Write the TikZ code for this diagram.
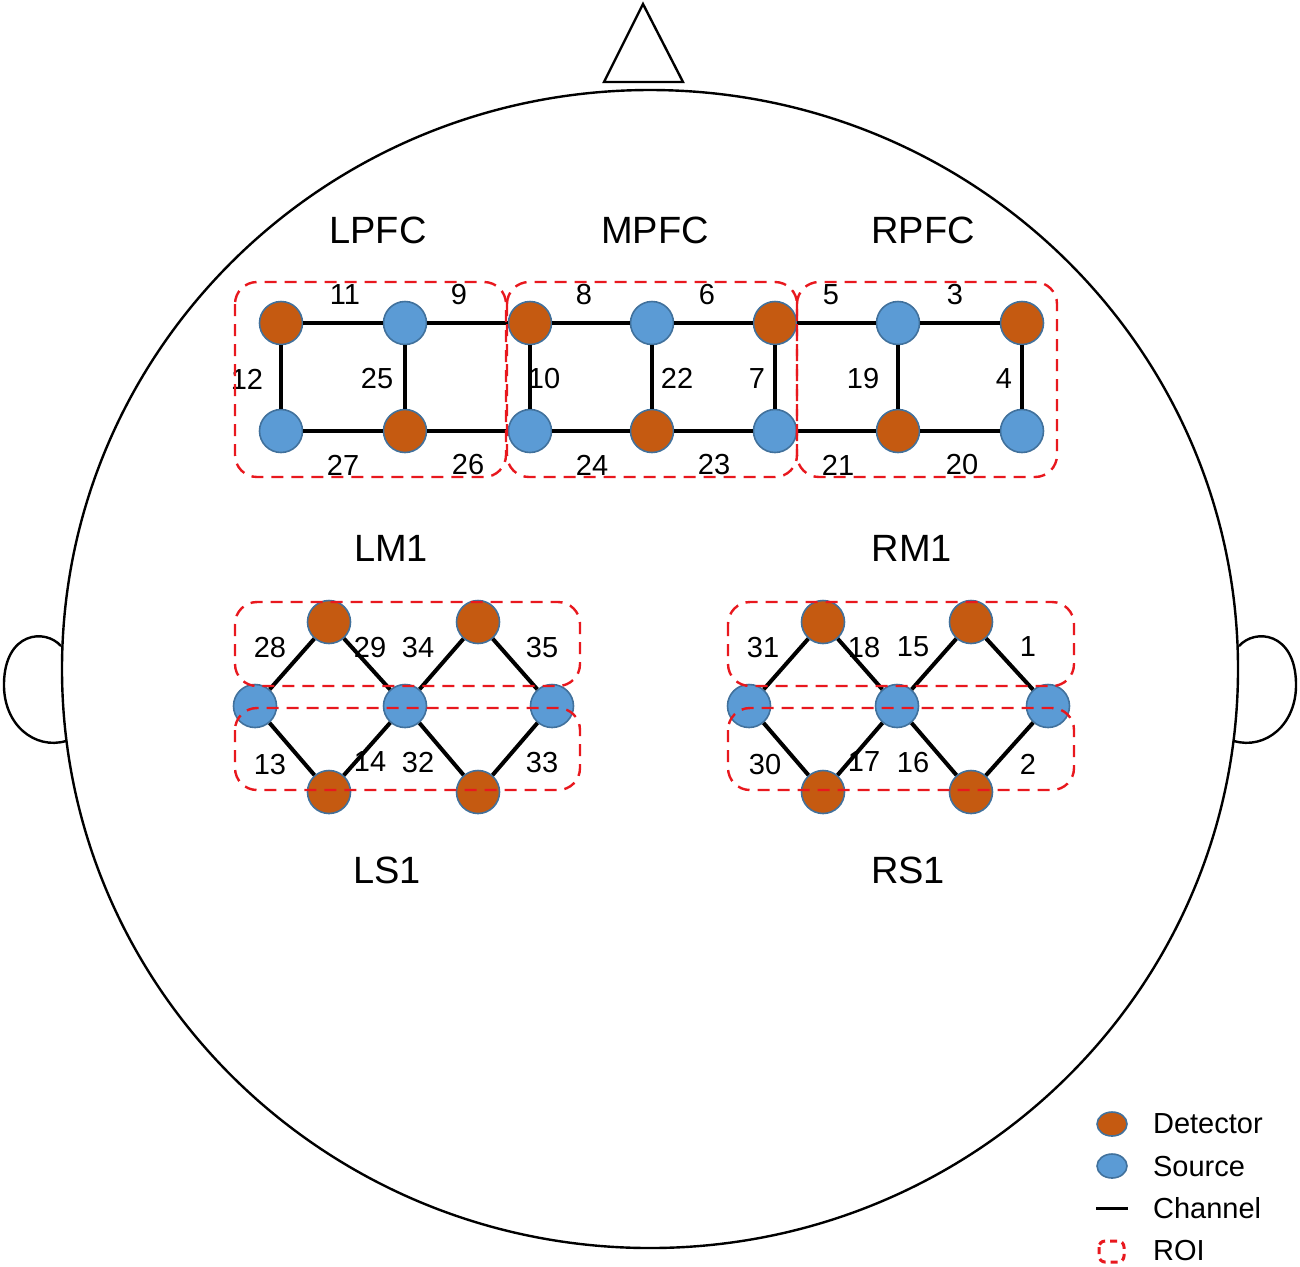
\documentclass[tikz,border=0pt]{standalone}
\usepackage{fontspec}
\setmainfont{Liberation Sans}
\usetikzlibrary{shapes.geometric}
\definecolor{detcol}{RGB}{197,90,17}
\definecolor{srccol}{RGB}{91,155,213}
\definecolor{rimcol}{RGB}{65,113,156}
\definecolor{roicol}{RGB}{232,24,30}

\begin{document}
\begin{tikzpicture}[
        x=0.5pt, y=-0.5pt,
        every node/.style={align=center, font=\fontsize{14.5}{17}\selectfont},
        det/.style={circle, draw=rimcol, fill=detcol, line width=0.8pt, minimum size=21.5pt, inner sep=0pt},
        src/.style={circle, draw=rimcol, fill=srccol, line width=0.8pt, minimum size=21.5pt, inner sep=0pt},
        chan/.style={line width=2pt},
        roi/.style={draw=roicol, dash pattern=on 6pt off 4pt, line width=1.2pt, rounded corners=11pt},
        area/.style={font=\fontsize{19}{22}\selectfont},
    ]
    \tikzstyle{keytext}=[anchor=west, font=\fontsize{14.5}{17}\selectfont]
    \useasboundingbox (0,0) rectangle (1300,1266);

    \draw[line width=1.2pt] (650,669) ellipse [x radius=588, y radius=579];
    \draw[line width=1.2pt] (604,82) -- (643,4) -- (683,82) -- cycle;
    \draw[line width=1.2pt] (61,646) .. controls (45,628) and (5,632) .. (4,683)
        .. controls (3,725) and (35,750) .. (66,741);
    \draw[line width=1.2pt] (1239,646) .. controls (1255,628) and (1295,632) .. (1296,683)
        .. controls (1297,725) and (1265,750) .. (1234,741);

    \node[area] (lpfc) at (378,230) {LPFC};
    \node[area] (mpfc) at (655,230) {MPFC};
    \node[area] (rpfc) at (923,230) {RPFC};
    \node[area] (lmone) at (391,548) {LM1};
    \node[area] (rmone) at (912,548) {RM1};
    \node[area] (lsone) at (387,870) {LS1};
    \node[area] (rsone) at (908,870) {RS1};

    \node[det] (t1) at (281,323) {};
    \node[src] (t2) at (405,323) {};
    \node[det] (t3) at (530,323) {};
    \node[src] (t4) at (652,323) {};
    \node[det] (t5) at (775,323) {};
    \node[src] (t6) at (898,323) {};
    \node[det] (t7) at (1022,323) {};
    \node[src] (b1) at (281,431) {};
    \node[det] (b2) at (405,431) {};
    \node[src] (b3) at (530,431) {};
    \node[det] (b4) at (652,431) {};
    \node[src] (b5) at (775,431) {};
    \node[det] (b6) at (898,431) {};
    \node[src] (b7) at (1022,431) {};

    \draw[chan] (t1) -- (t2) -- (t3) -- (t4) -- (t5) -- (t6) -- (t7);
    \draw[chan] (b1) -- (b2) -- (b3) -- (b4) -- (b5) -- (b6) -- (b7);
    \draw[chan] (t1) -- (b1);
    \draw[chan] (t2) -- (b2);
    \draw[chan] (t3) -- (b3);
    \draw[chan] (t4) -- (b4);
    \draw[chan] (t5) -- (b5);
    \draw[chan] (t6) -- (b6);
    \draw[chan] (t7) -- (b7);

    \node (ch11) at (345,295) {11};
    \node (ch9) at (459,295) {9};
    \node (ch8) at (584,295) {8};
    \node (ch6) at (707,295) {6};
    \node (ch5) at (831,295) {5};
    \node (ch3) at (955,295) {3};
    \node (ch12) at (247,379) {12};
    \node (ch25) at (377,379) {25};
    \node (ch10) at (544,379) {10};
    \node (ch22) at (677,378) {22};
    \node (ch7) at (757,379) {7};
    \node (ch19) at (863,379) {19};
    \node (ch4) at (1004,379) {4};
    \node (ch27) at (343,465) {27};
    \node (ch26) at (468,465) {26};
    \node (ch24) at (592,465) {24};
    \node (ch23) at (714,465) {23};
    \node (ch21) at (838,465) {21};
    \node (ch20) at (962,465) {20};

    \node[det] (lu1) at (329,622) {};
    \node[det] (lu2) at (478,622) {};
    \node[src] (lm1) at (255,706) {};
    \node[src] (lm2) at (405,706) {};
    \node[src] (lm3) at (552,706) {};
    \node[det] (ll1) at (329,792) {};
    \node[det] (ll2) at (478,792) {};
    \draw[chan] (lm1) -- (lu1) -- (lm2) -- (lu2) -- (lm3);
    \draw[chan] (lm1) -- (ll1) -- (lm2) -- (ll2) -- (lm3);

    \node (ch28) at (270,647) {28};
    \node (ch29) at (370,647) {29};
    \node (ch34) at (418,647) {34};
    \node (ch35) at (542,647) {35};
    \node (ch13) at (270,764) {13};
    \node (ch14) at (370,762) {14};
    \node (ch32) at (418,762) {32};
    \node (ch33) at (542,762) {33};

    \node[det] (ru1) at (823,622) {};
    \node[det] (ru2) at (971,622) {};
    \node[src] (rm1) at (749,706) {};
    \node[src] (rm2) at (897,706) {};
    \node[src] (rm3) at (1048,706) {};
    \node[det] (rl1) at (823,792) {};
    \node[det] (rl2) at (971,792) {};
    \draw[chan] (rm1) -- (ru1) -- (rm2) -- (ru2) -- (rm3);
    \draw[chan] (rm1) -- (rl1) -- (rm2) -- (rl2) -- (rm3);

    \node (ch31) at (763,647) {31};
    \node (ch18) at (864,647) {18};
    \node (ch15) at (913,647) {15};
    \node (ch1) at (1028,647) {1};
    \node (ch30) at (765,764) {30};
    \node (ch17) at (864,762) {17};
    \node (ch16) at (913,762) {16};
    \node (ch2) at (1028,764) {2};

    \draw[roi] (235,282) rectangle (506,477);
    \draw[roi] (507,282) rectangle (797,477);
    \draw[roi] (797,282) rectangle (1057,477);
    \draw[roi] (235,602) rectangle (580,686);
    \draw[roi] (235,708) rectangle (580,790);
    \draw[roi] (728,602) rectangle (1074,686);
    \draw[roi] (728,708) rectangle (1074,790);

    \node[det, shape=ellipse, minimum width=15pt, minimum height=12pt] (keydet) at (1112,1124) {};
    \node[src, shape=ellipse, minimum width=15pt, minimum height=12pt] (keysrc) at (1112,1166) {};
    \coordinate (keycha) at (1096,1208);
    \coordinate (keychb) at (1128,1208);
    \draw[line width=1.5pt] (keycha) -- (keychb);
    \draw[roi, line width=1.5pt, rounded corners=3pt, dash pattern=on 3.5pt off 2.5pt] (1099,1241) rectangle (1124,1262);
    \node[keytext] (keydett) at (1146,1124) {Detector};
    \node[keytext] (keysrct) at (1146,1166) {Source};
    \node[keytext] (keycht) at (1146,1208) {Channel};
    \node[keytext] (keyroit) at (1146,1250) {ROI};
\end{tikzpicture}
\end{document}
